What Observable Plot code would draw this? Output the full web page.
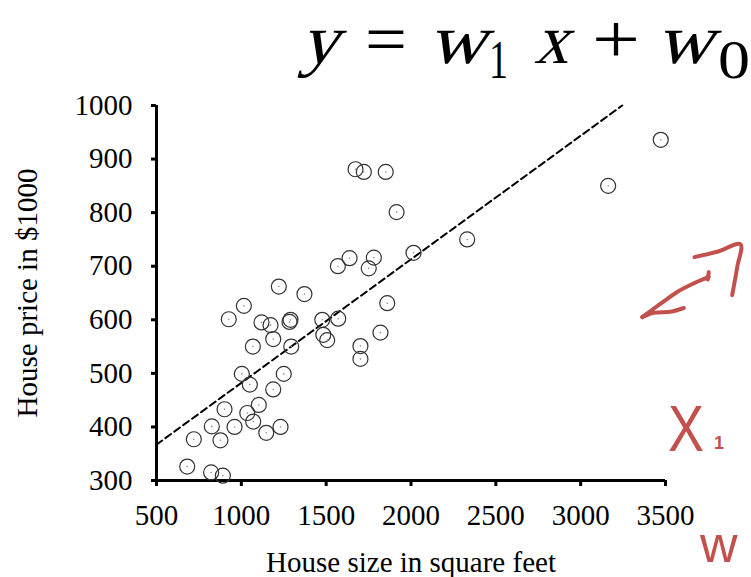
<!DOCTYPE html>
<html>
<head>
<meta charset="utf-8">
<script src="https://cdn.jsdelivr.net/npm/d3@7"></script>
<script src="https://cdn.jsdelivr.net/npm/@observablehq/plot@0.6"></script>
<style>
  html, body { margin: 0; padding: 0; background: #fff; }
  #wrap { position: relative; width: 751px; height: 577px; overflow: hidden; }
  #eq, #ink { position: absolute; left: 0; top: 0; pointer-events: none; }
</style>
</head>
<body>
<div id="wrap">
  <div id="chart"></div>
  <svg id="eq" width="751" height="100"></svg>
  <svg id="ink" width="751" height="577"></svg>
</div>
<script>
// ---- data ----
const sqft  = [1673,1722,1851,1915,2015,1569,1638,1781,1751,1221,1372,1015,926,1119,1172,1290,1284,1477,1571,1860,1188,1068,1294,1483,1506,1820,1702,1702,1003,1050,1250,1188,901,1103,1035,1070,826,960,1147,1231,720,877,681,822,891,3472,3162,2331];
const price = [881,876,876,801,725,700,715,716,696,662,648,626,601,595,590,600,596,600,602,631,564,550,550,572,562,576,551,527,499,479,499,470,433,441,426,410,401,400,389,400,377,375,326,315,309,936,850,750];
const fitX = [500, 3245];
const fitY = [367, 1000];
const xTicks = [500, 1000, 1500, 2000, 2500, 3000, 3500];
const yTicks = [300, 400, 500, 600, 700, 800, 900, 1000];
const xLabel = "House size in square feet";
const yLabel = "House price in $1000";
// hand-drawn red arrow (in data units)
const inkStroke = ["a","a","a","a","a","b","b","c","c","c","c","d","d","d","d","d"];
const inkX = [3363,3471,3569,3667,3755, 3755,3749, 3363,3431,3530,3608, 3671,3805,3942,3923,3893];
const inkY = [605,630,652,668,680, 689,675, 605,613,615,622, 717,727,741,699,646];

const points = sqft.map((x, i) => ({x, y: price[i]}));
const fit = fitX.map((x, i) => ({x, y: fitY[i]}));
const ink = inkX.map((x, i) => ({x, y: inkY[i], s: inkStroke[i]}));

const serif = "'Liberation Serif', 'Times New Roman', serif";

const chart = Plot.plot({
  width: 751,
  height: 577,
  marginLeft: 156,
  marginRight: 86,
  marginTop: 105,
  marginBottom: 97,
  style: {fontFamily: serif, fontSize: "29px", color: "#000", background: "transparent", overflow: "visible"},
  x: {domain: [500, 3500]},
  y: {domain: [300, 1000]},
  marks: [
    Plot.axisX({ticks: xTicks, tickFormat: "d", tickSize: 6, tickPadding: 18, strokeWidth: 3, label: xLabel, labelAnchor: "center", labelOffset: 91, labelArrow: false}),
    Plot.axisY({ticks: yTicks, tickFormat: "d", tickSize: 5, tickPadding: 19, strokeWidth: 3, label: yLabel, labelAnchor: "center", labelOffset: 140, labelArrow: false}),
    Plot.ruleX([500], {stroke: "#000", strokeWidth: 3}),
    Plot.ruleY([300], {stroke: "#000", strokeWidth: 3}),
    Plot.line(fit, {x: "x", y: "y", stroke: "#000", strokeWidth: 2, strokeDasharray: "7,4"}),
    Plot.dot(points, {x: "x", y: "y", r: 7.5, stroke: "#333", strokeWidth: 1.2, fill: "none"}),
    Plot.dot(points, {x: "x", y: "y", r: 0.8, fill: "#888", stroke: "none"}),
    Plot.line(ink, {x: "x", y: "y", z: "s", stroke: "#c2514e", strokeWidth: 4, strokeLinecap: "round", strokeLinejoin: "round", curve: "catmull-rom", clip: false})
  ]
});
document.getElementById("chart").appendChild(chart);

// equation title (italic letters slanted from the upright serif face)
const eqGlyphs = [
  {t: "y", x: 300, w: 38, it: true, sub: false},
  {t: "=", x: 365, w: 42, it: false, sub: false},
  {t: "w", x: 428, w: 58, it: true, sub: false},
  {t: "1", x: 489, w: 19, it: false, sub: true},
  {t: "x", x: 534, w: 34, it: true, sub: false},
  {t: "+", x: 592, w: 48, it: false, sub: false},
  {t: "w", x: 656, w: 57, it: true, sub: false},
  {t: "0", x: 718, w: 32, it: false, sub: true}
];
const eq = d3.select("#eq");
eq.selectAll("text").data(eqGlyphs).join("text")
  .attr("transform", d => `translate(${d.x},${d.sub ? 78 : 63})` + (d.it ? " skewX(-16)" : ""))
  .attr("font-family", serif)
  .attr("font-size", d => d.sub ? 54 : 70)
  .attr("textLength", d => d.w)
  .attr("lengthAdjust", "spacingAndGlyphs")
  .attr("fill", "#000")
  .text(d => d.t);

// red handwritten notes
const inkSvg = d3.select("#ink");
inkSvg.append("text").attr("x", 668).attr("y", 451).attr("font-family", "'Liberation Sans', sans-serif")
  .attr("font-size", 64).attr("fill", "#c2514e").attr("textLength", 36).attr("lengthAdjust", "spacingAndGlyphs").text("X");
inkSvg.append("text").attr("x", 714).attr("y", 449).attr("font-family", "'Liberation Sans', sans-serif")
  .attr("font-size", 18).attr("font-weight", "bold").attr("fill", "#c2514e").text("1");
inkSvg.append("text").attr("x", 700).attr("y", 562).attr("font-family", "'Liberation Sans', sans-serif")
  .attr("font-size", 52).attr("fill", "#c2514e").text("w");
</script>
</body>
</html>
